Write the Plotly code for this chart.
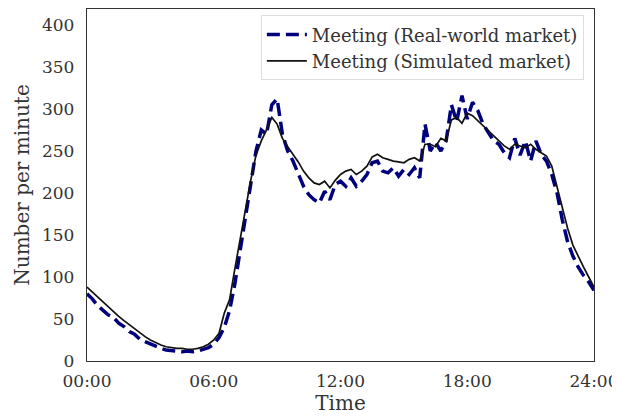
import plotly.graph_objects as go

# time in minutes, every 15 minutes from 00:00 to 24:00
minutes = [i * 15 for i in range(97)]

real_world = [
    80, 74, 66, 60, 55, 52, 45, 41, 35, 32, 26, 23,
    20, 17, 15, 13, 12, 12, 11, 12, 11, 12, 14, 16,
    20, 28, 40, 60, 92, 130, 172, 212, 250, 275, 270, 305,
    312, 270, 250, 238, 222, 208, 198, 192, 188, 202, 192, 210,
    214, 208, 218, 208, 214, 222, 236, 238, 226, 224, 230, 220,
    228, 222, 230, 218, 282, 250, 260, 250, 262, 305, 285, 316,
    288, 308, 298, 282, 272, 262, 258, 248, 242, 265, 245, 262,
    238, 262, 246, 238, 222, 200, 168, 142, 125, 112, 102, 94,
    84,
]

simulated = [
    88, 82, 76, 70, 64, 59, 53, 48, 43, 38, 33, 29,
    25, 22, 19, 17, 16, 15, 15, 14, 14, 15, 17, 20,
    25, 33, 57, 73, 110, 145, 182, 215, 245, 262, 275, 290,
    282, 265, 255, 246, 237, 226, 218, 212, 210, 214, 206, 215,
    222, 226, 228, 222, 226, 232, 243, 246, 242, 240, 238, 237,
    236, 240, 242, 238, 258, 258, 255, 265, 262, 287, 290, 283,
    295, 292, 286, 280, 274, 268, 262, 256, 252, 258, 256, 254,
    258, 252, 248, 244, 232, 208, 182, 158, 138, 124, 112, 100,
    88,
]

x_tick_vals = [0, 360, 720, 1080, 1440]
x_tick_text = ["00:00", "06:00", "12:00", "18:00", "24:00"]
y_tick_vals = [0, 50, 100, 150, 200, 250, 300, 350, 400]

FONT = "DejaVu Serif"
TXT = "#333333"

fig = go.Figure()
fig.add_trace(go.Scatter(
    x=minutes, y=real_world, mode="lines",
    name="Meeting (Real-world market)",
    line=dict(color="#00007f", width=3.5, dash="13px,6px"),
))
fig.add_trace(go.Scatter(
    x=minutes, y=simulated, mode="lines",
    name="Meeting (Simulated market)",
    line=dict(color="#111111", width=1.7),
))

axis_common = dict(
    showgrid=False, zeroline=False, showline=True, mirror=True,
    linecolor="#333333", linewidth=1.3, ticks="",
    automargin=False,
    tickfont=dict(family=FONT, size=17, color=TXT),
)

fig.update_layout(
    width=620, height=417,
    margin=dict(l=79, r=34, t=1, b=64),
    paper_bgcolor="white", plot_bgcolor="white",
    font=dict(family=FONT, color=TXT),
    showlegend=True,
    legend=dict(
        x=0.98, y=0.982, xanchor="right", yanchor="top",
        bgcolor="rgba(255,255,255,0.8)", bordercolor="#dddddd", borderwidth=1,
        font=dict(family=FONT, size=18, color=TXT),
        tracegroupgap=0, itemwidth=40,
    ),
    xaxis=dict(
        range=[0, 1440], tickvals=x_tick_vals, ticktext=x_tick_text,
        ticklabelstandoff=4,
        title=dict(text="Time", font=dict(family=FONT, size=20, color=TXT), standoff=2),
        **axis_common,
    ),
    yaxis=dict(
        range=[0, 419], tickvals=y_tick_vals,
        ticklabelstandoff=8,
        title=dict(text="Number per minute", font=dict(family=FONT, size=20, color=TXT), standoff=6),
        **axis_common,
    ),
)

fig.write_html("out.html")
